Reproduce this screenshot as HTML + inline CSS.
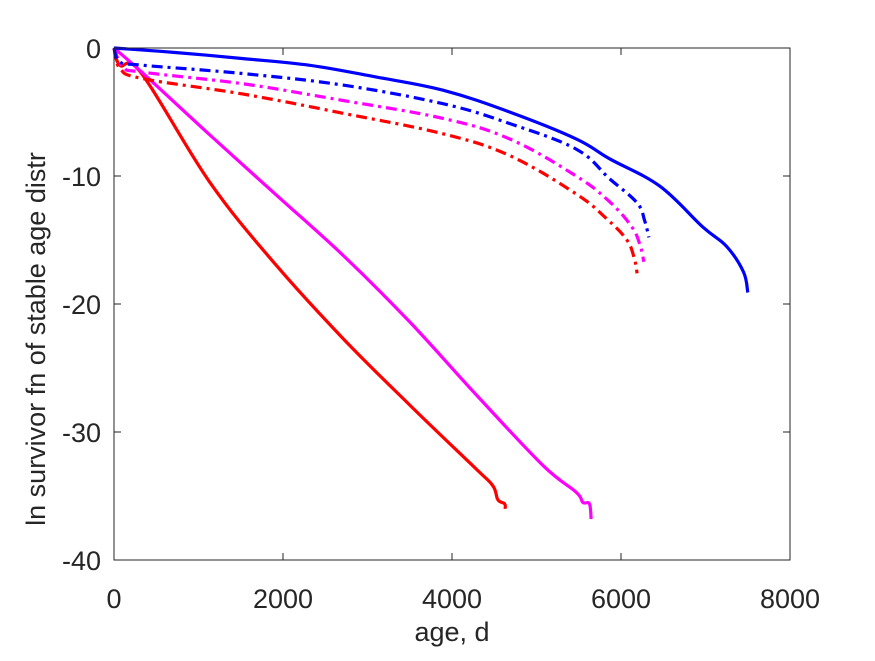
<!DOCTYPE html>
<html><head><meta charset="utf-8"><style>
body{margin:0;background:#fff;}
svg text{font-family:"Liberation Sans",Arial,sans-serif;fill:#262626;}
</style></head><body>
<svg id="chart" width="875" height="656" xmlns="http://www.w3.org/2000/svg">
<rect width="875" height="656" fill="#fff"/>
<g id="series"></g>
<g id="axes"></g>
</svg>
<script>
const xTicks=[0,2000,4000,6000,8000];
const yTicks=[0,-10,-20,-30,-40];
const blueSolidAge=[0,741,1529,2317,3105,3893,4681,5469,5863,6460,6970,7250,7450,7500];
const blueSolidVal=[0,-0.36,-0.83,-1.35,-2.27,-3.3,-5.0,-7.1,-8.65,-10.8,-14.0,-15.5,-17.5,-19.1];
const blueDashAge=[0,71,347,1529,2711,3893,4681,5469,5863,6190,6280,6330];
const blueDashVal=[0,-1.1,-1.35,-2.0,-2.9,-4.35,-5.9,-7.9,-10.2,-12.1,-13.5,-14.8];
const magDashAge=[0,110,347,1529,2711,3893,4681,5469,5863,6130,6230,6270];
const magDashVal=[0,-1.5,-1.9,-2.8,-4.1,-5.5,-7.1,-10.0,-12.0,-14.0,-15.5,-16.7];
const redDashAge=[0,71,347,1529,2711,3893,4681,5469,5823,6070,6160,6190];
const redDashVal=[0,-1.6,-2.4,-3.6,-5.1,-6.7,-8.4,-11.4,-13.3,-15.0,-16.5,-17.6];
const magSolidAge=[0,347,1135,1923,2711,3499,4287,5075,5469,5548,5626,5646];
const magSolidVal=[0,-2.0,-6.8,-11.5,-16.2,-21.4,-27.1,-32.6,-34.7,-35.5,-35.6,-36.8];
const redSolidAge=[0,70,327,1135,1923,2711,3500,4287,4484,4543,4622,4630];
const redSolidVal=[0,-1.35,-2.0,-10.5,-17.0,-22.7,-27.9,-32.9,-34.2,-35.3,-35.6,-36.0];

const L=114,R=790,T=48,B=560;
const xs=v=>L+(v-0)/8000*(R-L);
const ys=v=>T+(0-v)/40*(B-T);
const NS="http://www.w3.org/2000/svg";
const sg=document.getElementById('series'), ag=document.getElementById('axes');
function smoothPath(pts){
  let d='M'+pts[0][0].toFixed(1)+','+pts[0][1].toFixed(1);
  for(let i=0;i<pts.length-1;i++){
    const p0=pts[Math.max(i-1,0)],p1=pts[i],p2=pts[i+1],p3=pts[Math.min(i+2,pts.length-1)];
    const k=0.18;
    const c1=[p1[0]+(p2[0]-p0[0])*k,p1[1]+(p2[1]-p0[1])*k];
    const c2=[p2[0]-(p3[0]-p1[0])*k,p2[1]-(p3[1]-p1[1])*k];
    d+=' C'+c1.map(v=>v.toFixed(1)).join(',')+' '+c2.map(v=>v.toFixed(1)).join(',')+' '+p2.map(v=>v.toFixed(1)).join(',');
  }
  return d;
}
function line(ages,vals,color,dash,name){
  const p=document.createElementNS(NS,'path');
  p.setAttribute('d',smoothPath(ages.map((a,i)=>[xs(a),ys(vals[i])])));
  p.setAttribute('fill','none');p.setAttribute('stroke',color);p.setAttribute('stroke-width','3.2');
  p.setAttribute('stroke-linejoin','round');
  if(dash)p.setAttribute('stroke-dasharray','11,5,3,5');
  
  
  sg.appendChild(p);
}
line(redSolidAge,redSolidVal,'#ff0000',false,'red-solid-line');
line(magSolidAge,magSolidVal,'#ff00ff',false,'magenta-solid-line');
line(redDashAge,redDashVal,'#ff0000',true,'red-dashdot-line');
line(magDashAge,magDashVal,'#ff00ff',true,'magenta-dashdot-line');
line(blueDashAge,blueDashVal,'#0000ff',true,'blue-dashdot-line');
line(blueSolidAge,blueSolidVal,'#0000ff',false,'blue-solid-line');

const box=document.createElementNS(NS,'rect');
box.setAttribute('x',L);box.setAttribute('y',T);box.setAttribute('width',R-L);box.setAttribute('height',B-T);
box.setAttribute('fill','none');box.setAttribute('stroke','#262626');box.setAttribute('stroke-width','1');


ag.appendChild(box);
function seg(x1,y1,x2,y2){const l=document.createElementNS(NS,'line');
l.setAttribute('x1',x1);l.setAttribute('y1',y1);l.setAttribute('x2',x2);l.setAttribute('y2',y2);
l.setAttribute('stroke','#262626');l.setAttribute('stroke-width','1');


ag.appendChild(l);}
function txt(x,y,s,anchor,name,size){const t=document.createElementNS(NS,'text');
t.setAttribute('x',x);t.setAttribute('y',y);t.setAttribute('text-anchor',anchor);t.setAttribute('font-size',size);
t.textContent=s;


ag.appendChild(t);return t;}
xTicks.forEach(v=>{const x=xs(v);seg(x,B,x,B-7);seg(x,T,x,T+7);txt(x,B+48,String(v),'middle','x-tick-label',27);});
yTicks.forEach(v=>{const y=ys(v);seg(L,y,L+7,y);seg(R,y,R-7,y);txt(L-13,y+10,String(v),'end','y-tick-label',27);});
txt((L+R)/2,641,'age, d','middle','x-axis-title',27);
const yt=txt(0,0,'ln survivor fn of stable age distr','middle','y-axis-title',27);
yt.setAttribute('transform','translate(45,'+((T+B)/2+35)+') rotate(-90)');
</script>
</body></html>
